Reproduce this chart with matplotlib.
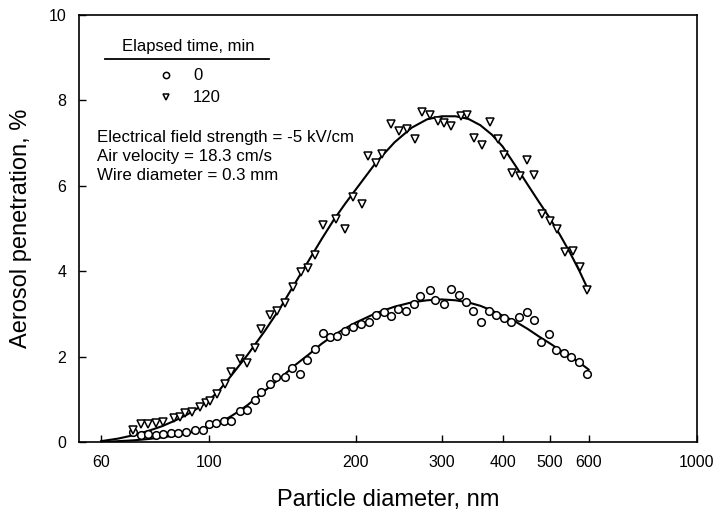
import matplotlib
matplotlib.use("Agg")
import matplotlib.pyplot as plt
from matplotlib.lines import Line2D

plt.rcParams['font.family'] = ['Liberation Sans', 'DejaVu Sans']

# ---- data ----
d0 = [69.9, 72.6, 75.0, 77.9, 80.5, 83.6, 86.4, 89.7, 93.6, 97.2, 100, 103.4, 107.3, 110.9,
      115.7, 119.6, 124.2, 127.7, 133.3, 137.1, 143.0, 147.8, 153.5, 158.7, 164.7, 171.1,
      176.8, 182.7, 189.7, 197.0, 204.6, 212.4, 219.5, 228.0, 235.6, 243.5, 252.8, 262.5,
      271.3, 283.1, 291.2, 303.8, 314.0, 326.1, 337.0, 348.3, 361.7, 375.5, 388.1, 403.0,
      416.5, 432.5, 449.1, 464.2, 479.7, 498.1, 514.8, 534.5, 552.4, 573.6, 595.7]
p0 = [0.24, 0.16, 0.18, 0.16, 0.18, 0.20, 0.21, 0.24, 0.28, 0.29, 0.42, 0.45, 0.49, 0.49,
      0.72, 0.75, 0.98, 1.18, 1.36, 1.53, 1.53, 1.73, 1.59, 1.91, 2.17, 2.56,
      2.46, 2.49, 2.59, 2.69, 2.77, 2.82, 2.98, 3.04, 2.96, 3.12, 3.08, 3.24,
      3.41, 3.55, 3.32, 3.24, 3.59, 3.45, 3.29, 3.08, 2.82, 3.06, 2.98, 2.90,
      2.82, 2.93, 3.04, 2.86, 2.35, 2.53, 2.16, 2.08, 1.99, 1.88, 1.59]

d120 = [69.9, 72.6, 75.0, 77.9, 80.5, 84.8, 87.2, 89.3, 92.3, 95.8, 98.6, 100.5, 103.8,
        107.8, 110.9, 115.7, 119.6, 124.2, 127.7, 133.3, 137.7, 143.0, 148.5, 154.2, 159.4,
        164.7, 171.1, 182.0, 189.7, 197.0, 205.5, 211.6, 219.5, 226.7, 235.6, 245.5, 255.0,
        263.8, 272.6, 283.1, 294.1, 303.8, 314.0, 327.9, 338.5, 350.0, 363.2, 377.3, 390.9,
        403.0, 418.5, 434.8, 449.1, 464.2, 481.9, 500.4, 517.1, 536.9, 557.6, 576.3, 595.7]
p120 = [0.28, 0.42, 0.42, 0.44, 0.46, 0.57, 0.58, 0.68, 0.71, 0.82, 0.91, 0.96, 1.12,
        1.36, 1.64, 1.94, 1.84, 2.20, 2.64, 2.98, 3.08, 3.26, 3.63, 3.98, 4.08,
        4.39, 5.08, 5.23, 4.98, 5.75, 5.57, 6.69, 6.53, 6.75, 7.45, 7.29, 7.33,
        7.10, 7.73, 7.65, 7.51, 7.48, 7.40, 7.63, 7.66, 7.12, 6.96, 7.49, 7.10,
        6.72, 6.30, 6.24, 6.61, 6.25, 5.35, 5.18, 5.00, 4.45, 4.47, 4.09, 3.57]

# fitted curves
fit_d = [60, 65, 70, 75, 80, 85, 90, 95, 100, 105, 110, 115, 120, 130, 140, 150, 160, 170,
         180, 190, 200, 220, 240, 260, 280, 300, 320, 340, 360, 380, 400, 425, 450, 475,
         500, 525, 550, 575, 600]
fit_0 = [0.0, 0.02, 0.04, 0.07, 0.11, 0.15, 0.20, 0.27, 0.36, 0.46, 0.58, 0.72, 0.87, 1.20,
         1.50, 1.80, 2.05, 2.30, 2.50, 2.66, 2.80, 3.02, 3.17, 3.27, 3.32, 3.34, 3.32, 3.27,
         3.19, 3.08, 2.96, 2.82, 2.65, 2.47, 2.31, 2.15, 2.00, 1.86, 1.70]
fit_120 = [0.02, 0.08, 0.16, 0.26, 0.37, 0.50, 0.64, 0.80, 0.98, 1.22, 1.50, 1.78, 2.05, 2.60,
           3.15, 3.72, 4.25, 4.75, 5.20, 5.58, 5.92, 6.55, 7.02, 7.36, 7.56, 7.63, 7.63, 7.57,
           7.42, 7.20, 6.92, 6.47, 6.03, 5.62, 5.24, 4.84, 4.43, 4.00, 3.55]

xticks = [60, 100, 200, 300, 400, 500, 600, 1000]
yticks = [0, 2, 4, 6, 8, 10]
legend_title = "Elapsed time, min"
series_labels = ["0", "120"]
notes = ["Electrical field strength = -5 kV/cm",
         "Air velocity = 18.3 cm/s",
         "Wire diameter = 0.3 mm"]

fig = plt.figure(figsize=(7.16, 5.15), dpi=100)
ax = fig.add_axes([0.110, 0.1417, 0.863, 0.829])

ax.plot(fit_d, fit_120, color='black', lw=1.5, zorder=2)
ax.plot(fit_d, fit_0, color='black', lw=1.5, zorder=2)
ax.plot(d0, p0, linestyle='none', marker='o', ms=5.5, mfc='white', mec='black', mew=1.1, zorder=3)
ax.plot(d120, p120, linestyle='none', marker='v', ms=5.5, mfc='white', mec='black', mew=1.1, zorder=3)

ax.set_xscale('log')
ax.set_xlim(54, 1000)
ax.set_ylim(0, 10)
ax.set_xticks(xticks)
ax.set_xticklabels([str(v) for v in xticks])
ax.xaxis.set_minor_locator(matplotlib.ticker.NullLocator())
ax.set_yticks(yticks)
ax.tick_params(axis='both', which='major', direction='in', length=5, width=1,
               labelsize=11.5, pad=9)
for s in ax.spines.values():
    s.set_linewidth(1.2)

ax.set_xlabel("Particle diameter, nm", fontsize=17, labelpad=14)
ax.set_ylabel("Aerosol penetration, %", fontsize=17, labelpad=12)

# legend (drawn manually, SigmaPlot style)
tr = ax.transAxes
ax.text(0.177, 0.927, legend_title, transform=tr, ha='center', va='center', fontsize=12)
ax.add_line(Line2D([0.042, 0.308], [0.896, 0.896], transform=tr, color='black', lw=1.3))
ax.plot([0.141], [0.859], transform=tr, marker='o', ms=4.5, mfc='white', mec='black', mew=1.1,
        linestyle='none', clip_on=False)
ax.plot([0.141], [0.807], transform=tr, marker='v', ms=4.5, mfc='white', mec='black', mew=1.1,
        linestyle='none', clip_on=False)
ax.text(0.185, 0.859, series_labels[0], transform=tr, ha='left', va='center', fontsize=12)
ax.text(0.185, 0.807, series_labels[1], transform=tr, ha='left', va='center', fontsize=12)
for i, t in enumerate(notes):
    ax.text(0.029, 0.714 - i * 0.0445, t, transform=tr, ha='left', va='center', fontsize=12.2)

fig.savefig("out.png", dpi=100)
